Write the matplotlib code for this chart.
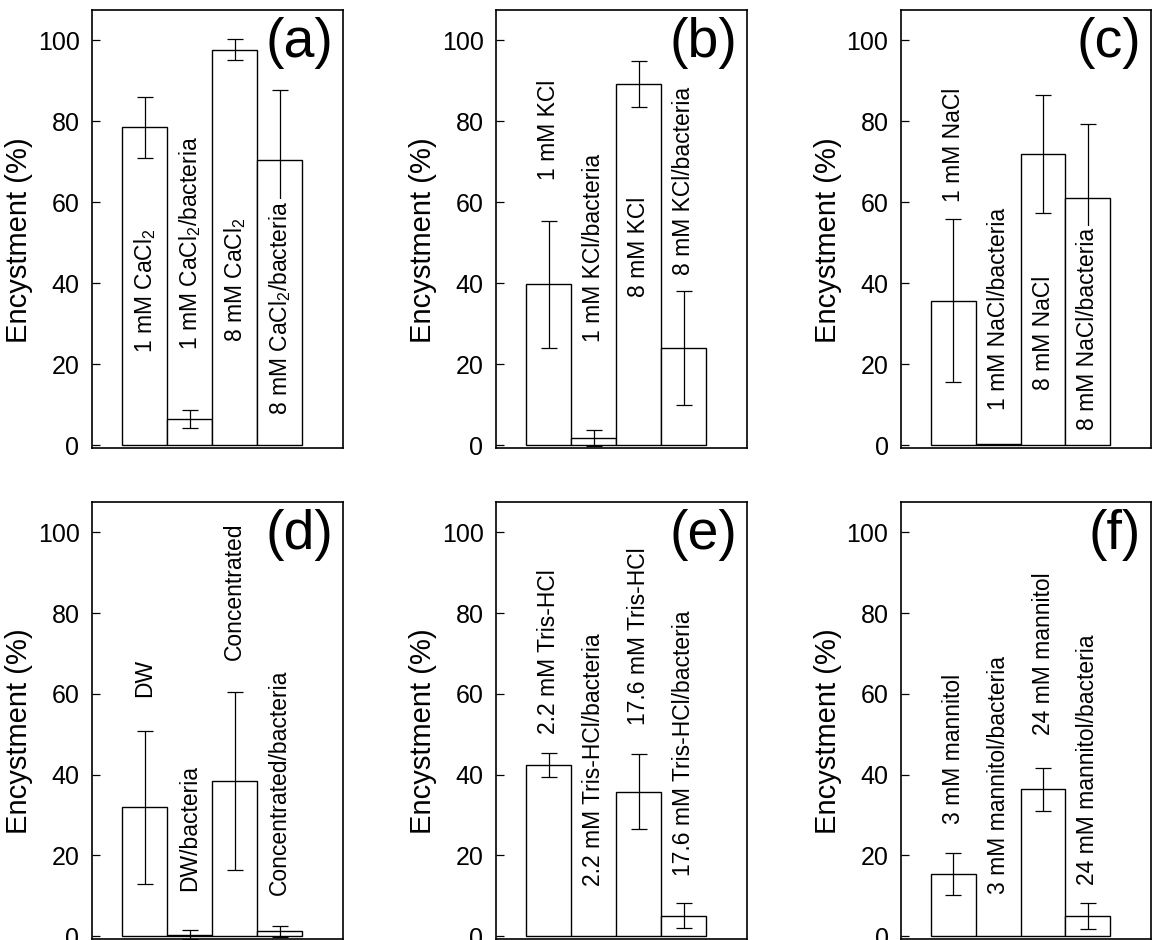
import matplotlib.pyplot as plt
import numpy as np

plt.rcParams['font.family'] = ['Liberation Sans', 'DejaVu Sans']
plt.rcParams['mathtext.default'] = 'regular'

# (a) CaCl2
labels_a = ['1 mM CaCl$_2$', '1 mM CaCl$_2$/bacteria', '8 mM CaCl$_2$', '8 mM CaCl$_2$/bacteria']
values_a = [78.5, 6.5, 97.7, 70.5]
errors_a = [7.6, 2.2, 2.6, 17.3]
text_y_a = [22.8, 23.6, 25.6, 7.4]

# (b) KCl
labels_b = ['1 mM KCl', '1 mM KCl/bacteria', '8 mM KCl', '8 mM KCl/bacteria']
values_b = [39.7, 1.8, 89.2, 24.0]
errors_b = [15.7, 1.9, 5.6, 14.0]
text_y_b = [65.4, 25.6, 36.7, 42.0]

# (c) NaCl
labels_c = ['1 mM NaCl', '1 mM NaCl/bacteria', '8 mM NaCl', '8 mM NaCl/bacteria']
values_c = [35.7, 0.4, 72.0, 61.0]
errors_c = [20.1, 0.0, 14.6, 18.4]
text_y_c = [60.1, 8.7, 13.6, 3.8]

# (d) DW / concentrated
labels_d = ['DW', 'DW/bacteria', 'Concentrated', 'Concentrated/bacteria']
values_d = [31.9, 0.4, 38.4, 1.2]
errors_d = [19.0, 1.2, 22.0, 1.3]
text_y_d = [59.3, 11.1, 68.3, 10.3]

# (e) Tris-HCl
labels_e = ['2.2 mM Tris-HCl', '2.2 mM Tris-HCl/bacteria', '17.6 mM Tris-HCl', '17.6 mM Tris-HCl/bacteria']
values_e = [42.3, 0.0, 35.8, 5.0]
errors_e = [3.0, 0.0, 9.2, 3.1]
text_y_e = [50.1, 12.4, 52.2, 14.8]

# (f) mannitol
labels_f = ['3 mM mannitol', '3 mM mannitol/bacteria', '24 mM mannitol', '24 mM mannitol/bacteria']
values_f = [15.3, 0.0, 36.4, 4.9]
errors_f = [5.2, 0.0, 5.3, 3.2]
text_y_f = [27.7, 10.5, 49.7, 12.6]

panels = [
    ('(a)', labels_a, values_a, errors_a, text_y_a),
    ('(b)', labels_b, values_b, errors_b, text_y_b),
    ('(c)', labels_c, values_c, errors_c, text_y_c),
    ('(d)', labels_d, values_d, errors_d, text_y_d),
    ('(e)', labels_e, values_e, errors_e, text_y_e),
    ('(f)', labels_f, values_f, errors_f, text_y_f),
]

W, H = 1152, 940
fig = plt.figure(figsize=(W / 100, H / 100), dpi=100)

lefts = [92, 496, 901]
widths = [251, 251, 250]
rows = [(10, 448), (502, 939)]


def draw_panel(ax, tag, labels, values, errors, text_y):
    x = np.arange(len(values))
    ax.bar(x, values, width=1.0, color='white', edgecolor='black', linewidth=1.0, zorder=2)
    for xi, v, e in zip(x, values, errors):
        if e > 0:
            ax.errorbar(xi, v, yerr=e, fmt='none', ecolor='black', elinewidth=0.9,
                        capsize=6, capthick=0.9, zorder=3)
    # labels sit on a white box so they hide the error bar behind them
    for xi, lab, ty in zip(x, labels, text_y):
        ax.text(xi, ty, lab, rotation=90, ha='center', va='bottom', fontsize=16.5,
                zorder=4, bbox=dict(facecolor='white', edgecolor='none', pad=1.5))
    ax.text(0.96, 0.985, tag, transform=ax.transAxes, ha='right', va='top', fontsize=40)
    ax.set_xlim(-1.17, 4.41)
    ax.set_ylim(-0.7, 107.5)
    ax.set_xticks([])
    ax.set_yticks([0, 20, 40, 60, 80, 100])
    ax.tick_params(axis='y', direction='in', length=6, width=0.9, labelsize=18, pad=9)
    ax.set_ylabel('Encystment (%)', fontsize=21)
    ax.yaxis.set_label_coords(-0.235, 0.475)
    for s in ax.spines.values():
        s.set_linewidth(1.2)


for i, (tag, labels, values, errors, text_y) in enumerate(panels):
    r, c = divmod(i, 3)
    top, bottom = rows[r]
    rect = [lefts[c] / W, (H - bottom) / H, widths[c] / W, (bottom - top) / H]
    ax = fig.add_axes(rect)
    draw_panel(ax, tag, labels, values, errors, text_y)

fig.savefig('out.png', dpi=100)
